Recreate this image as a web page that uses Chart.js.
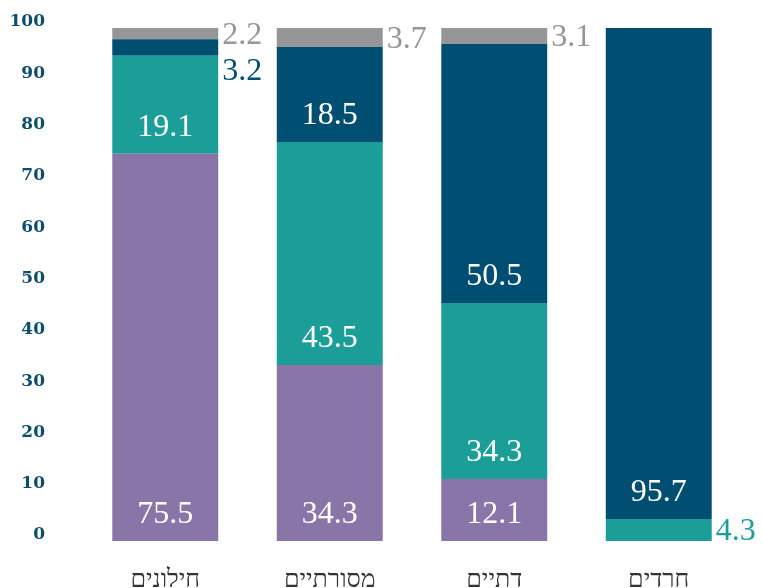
<!DOCTYPE html>
<html>
<head>
<meta charset="utf-8">
<script src="https://cdn.jsdelivr.net/npm/chart.js@4.4.1/dist/chart.umd.min.js"></script>
<style>
  html, body { margin: 0; padding: 0; background: #fff; }
  #wrap { width: 763px; height: 588px; }
</style>
</head>
<body>
<div id="wrap"><canvas id="chart"></canvas></div>
<script>
const categories = ["חילונים", "מסורתיים", "דתיים", "חרדים"];
const purpleValues = [75.5, 34.3, 12.1, 0];
const tealValues = [19.1, 43.5, 34.3, 4.3];
const blueValues = [3.2, 18.5, 50.5, 95.7];
const grayValues = [2.2, 3.7, 3.1, 0];

const colors = ["#8a75a8", "#1b9e98", "#004f72", "#969699"];

// labels: big values inside the bar (white), small ones beside it in the segment colour
const valueLabels = {
  id: "valueLabels",
  afterDatasetsDraw(chart) {
    const ctx = chart.ctx;
    ctx.save();
    ctx.font = "32px 'Liberation Serif'";
    ctx.textBaseline = "middle";
    const n = chart.data.labels.length;
    for (let i = 0; i < n; i++) {
      let lastY = -Infinity;
      // top segment first so outside labels can be pushed down
      for (let d = chart.data.datasets.length - 1; d >= 0; d--) {
        const v = chart.data.datasets[d].data[i];
        if (!v) continue;
        const el = chart.getDatasetMeta(d).data[i];
        if (v >= 5) {
          ctx.fillStyle = "#ffffff";
          ctx.textAlign = "center";
          ctx.fillText(v.toFixed(1), el.x, el.base - 26);
        } else {
          let y = (el.y + el.base) / 2 + 2;
          if (y < lastY + 36) y = lastY + 36;
          lastY = y;
          ctx.fillStyle = colors[d];
          ctx.textAlign = "left";
          ctx.fillText(v.toFixed(1), el.x + el.width / 2 + 4, y);
        }
      }
    }
    ctx.restore();
  },
};

new Chart(document.getElementById("chart"), {
  type: "bar",
  data: {
    labels: categories,
    datasets: [
      { data: purpleValues, backgroundColor: colors[0] },
      { data: tealValues, backgroundColor: colors[1] },
      { data: blueValues, backgroundColor: colors[2] },
      { data: grayValues, backgroundColor: colors[3] },
    ],
  },
  options: {
    maintainAspectRatio: false,
    animation: false,
    layout: { padding: { top: 28, right: 22, left: 0, bottom: 0 } },
    datasets: {
      bar: { barPercentage: 1, categoryPercentage: 0.644, borderWidth: 0 },
    },
    scales: {
      x: {
        stacked: true,
        afterFit: (scale) => { scale.height = 47; },
        border: { display: false },
        grid: { display: false, drawTicks: false, tickLength: 0 },
        ticks: {
          padding: 24,
          color: "#333333",
          font: { family: "'Liberation Serif'", size: 25 },
        },
      },
      y: {
        stacked: true,
        min: 0,
        max: 100,
        afterFit: (scale) => {
          scale.width = 83;
          scale.paddingTop = 0;
          scale.paddingBottom = 0;
        },
        border: { display: false },
        grid: { display: false, drawTicks: false, tickLength: 0 },
        ticks: {
          stepSize: 10,
          padding: 38,
          labelOffset: -6,
          color: "#0d4d6c",
          font: { family: "'DejaVu Serif'", size: 17, weight: "bold" },
        },
      },
    },
    plugins: {
      legend: { display: false },
      tooltip: { enabled: false },
    },
  },
  plugins: [valueLabels],
});
</script>
</body>
</html>
